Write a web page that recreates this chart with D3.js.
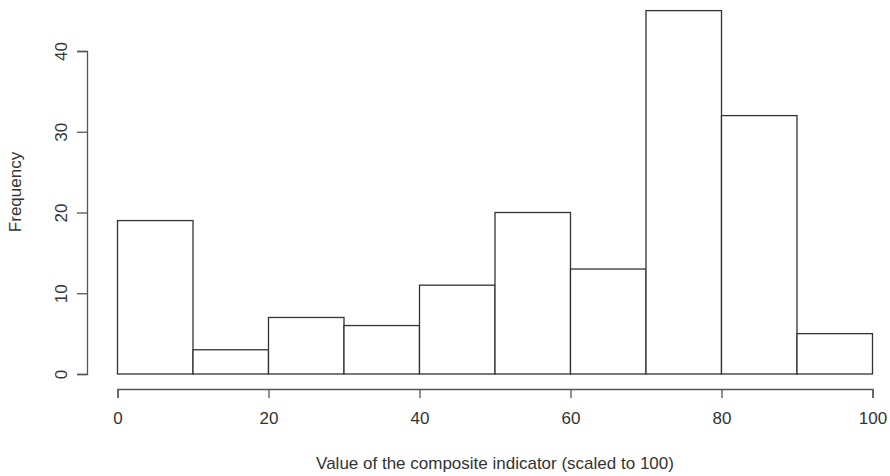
<!DOCTYPE html>
<html>
<head>
<meta charset="utf-8">
<script src="https://cdn.jsdelivr.net/npm/d3@7"></script>
<style>
  html, body { margin: 0; padding: 0; background: #fff; }
  text { font-family: "Liberation Sans", Arial, sans-serif; fill: #333; }
</style>
</head>
<body>
<svg id="chart" width="890" height="476"></svg>
<script>
// Histogram bins (lower/upper edges) and their counts
const binStarts = [0, 10, 20, 30, 40, 50, 60, 70, 80, 90];
const binEnds   = [10, 20, 30, 40, 50, 60, 70, 80, 90, 100];
const counts    = [19, 3, 7, 6, 11, 20, 13, 45, 32, 5];
const xTicks = [0, 20, 40, 60, 80, 100];
const yTicks = [0, 10, 20, 30, 40];
const xTitle = "Value of the composite indicator (scaled to 100)";
const yTitle = "Frequency";

const svg = d3.select("#chart");
const x = d3.scaleLinear().domain([0, 100]).range([117.5, 872.5]);
const y = d3.scaleLinear().domain([0, 40]).range([374, 51]);

const axisColor = "#555";
const font = 17;

// bars
svg.append("g").selectAll("rect")
  .data(counts)
  .join("rect")
  .attr("x", (d, i) => x(binStarts[i]))
  .attr("width", (d, i) => x(binEnds[i]) - x(binStarts[i]))
  .attr("y", d => y(d))
  .attr("height", d => y(0) - y(d))
  .attr("fill", "#fff")
  .attr("stroke", "#333")
  .attr("stroke-width", 1.3);

// x axis
const xAxis = svg.append("g")
  .attr("transform", "translate(0,389)")
  .call(d3.axisBottom(x).tickValues(xTicks).tickSize(9).tickPadding(14).tickFormat(d3.format("d")));
xAxis.select(".domain").attr("stroke", axisColor).attr("stroke-width", 1.3);
xAxis.selectAll(".tick line").attr("stroke", axisColor).attr("stroke-width", 1.3);
xAxis.selectAll("text").attr("font-size", font).attr("font-family", "Liberation Sans, Arial, sans-serif").attr("fill", "#333");

// y axis
const yAxis = svg.append("g")
  .attr("transform", "translate(87,0)")
  .call(d3.axisLeft(y).tickValues(yTicks).tickSize(10).tickFormat(d3.format("d")));
yAxis.select(".domain").attr("stroke", axisColor).attr("stroke-width", 1.3);
yAxis.selectAll(".tick line").attr("stroke", axisColor).attr("stroke-width", 1.3);
yAxis.selectAll("text")
  .attr("font-size", font)
  .attr("font-family", "Liberation Sans, Arial, sans-serif")
  .attr("fill", "#333")
  .attr("x", null).attr("dy", null)
  .attr("text-anchor", "middle")
  .attr("transform", "translate(-26,0) rotate(-90)")
  .attr("y", 0).attr("dy", "0.35em");

// axis titles
svg.append("text")
  .attr("x", x(50)).attr("y", 469)
  .attr("text-anchor", "middle")
  .attr("font-size", font)
  .text(xTitle);

svg.append("text")
  .attr("transform", "translate(21,192) rotate(-90)")
  .attr("text-anchor", "middle")
  .attr("font-size", font)
  .text(yTitle);
</script>
</body>
</html>
